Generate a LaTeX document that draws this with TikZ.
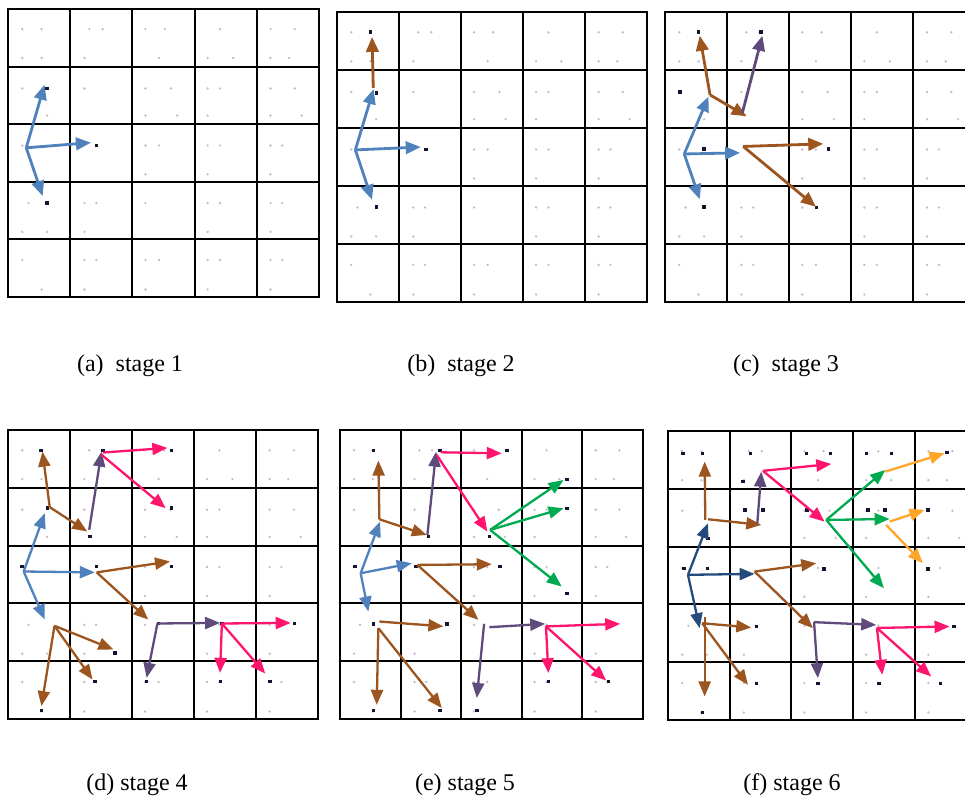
\documentclass[tikz,border=0pt]{standalone}
\usepackage{fontspec}
\setmainfont{Liberation Serif}
\usetikzlibrary{arrows.meta}
\definecolor{cblue}{RGB}{79,129,189}
\definecolor{cdblue}{RGB}{35,75,125}
\definecolor{cbrown}{RGB}{156,85,30}
\definecolor{cpurple}{RGB}{96,74,123}
\definecolor{cpink}{RGB}{255,20,110}
\definecolor{cgreen}{RGB}{0,170,80}
\definecolor{corange}{RGB}{255,165,40}
\definecolor{cfaint}{RGB}{200,185,200}
\definecolor{cdark}{RGB}{20,20,50}
\newcommand\panelgrid{%
  \foreach \x/\y [count=\k] in {0.23/0.35,0.54/0.35,0.23/0.85,0.54/0.85,1.31/0.35,1.52/0.35,1.23/0.85,2.21/0.35,2.52/0.35,2.43/0.85,3.41/0.35,3.21/0.85,3.62/0.85,4.22/0.35,4.61/0.35,4.22/0.85,4.52/0.85,
  0.23/1.38,0.63/1.85,1.23/1.38,2.21/1.38,2.62/1.38,2.21/1.85,2.72/1.85,3.21/1.38,3.41/1.38,3.21/1.85,4.22/1.38,4.61/1.38,4.22/1.85,4.72/1.85,
  0.23/2.37,2.21/2.37,2.43/2.37,2.21/2.87,3.21/2.37,3.41/2.37,3.21/2.87,4.22/2.37,4.41/2.37,4.22/2.87,
  0.33/3.37,0.23/3.87,0.63/3.87,1.23/3.37,1.42/3.37,1.23/3.87,2.21/3.37,3.21/3.37,3.41/3.37,3.21/3.87,4.22/3.37,4.41/3.37,4.22/3.87,
  0.23/4.36,0.54/4.87,1.23/4.36,1.42/4.36,1.23/4.87,2.21/4.36,2.43/4.36,2.21/4.87,3.21/4.36,3.41/4.36,3.21/4.87,4.22/4.36,4.41/4.36,4.22/4.87}
  {\node[faint] (fd\k) at (\x,\y) {};}%
  \foreach \i in {1,...,4}{\draw[gridln] (\i,0) -- (\i,5); \draw[gridln] (0,\i) -- (5,\i);}%
  \draw[gridln] (0,0) rectangle (5,5);%
}
\begin{document}
\begin{tikzpicture}[x=1pt,y=-1pt,
  gridln/.style={line width=1.9pt, black, line cap=rect},
  arr/.style={line width=2.3pt, -{Triangle[length=15pt,width=12pt]}},
  arrb/.style={line width=2.8pt, -{Triangle[length=15pt,width=12.5pt]}},
  faint/.style={circle, inner sep=0pt, minimum size=2.6pt, fill=cfaint},
  dark/.style={rectangle, inner sep=0pt, minimum size=3.6pt, fill=cdark},
  captxt/.style={font=\fontsize{24}{28}\selectfont, inner sep=0pt}]
\useasboundingbox (0,0) rectangle (965,799);
\clip (0,0) rectangle (965,799);
\fill[white] (0,0) rectangle (965,799);

% ---------------- (a) stage 1
\begin{scope}[shift={(8,9)},xscale=62.2,yscale=57.6]
\panelgrid
\foreach \x/\y [count=\k] in {0.63/1.38,1.42/2.37,0.63/3.37}{\node[dark] (ad\k) at (\x,\y) {};}
\coordinate (aR) at (0.295,2.42);
\coordinate (aT1) at (0.59,1.32);
\coordinate (aT2) at (1.34,2.33);
\coordinate (aT3) at (0.56,3.26);
\draw[arrb,cblue] (aR) -- (aT1);
\draw[arrb,cblue] (aR) -- (aT2);
\draw[arrb,cblue] (aR) -- (aT3);
\end{scope}

% ---------------- (b) stage 2
\begin{scope}[shift={(337,12)},xscale=62,yscale=58]
\panelgrid
\foreach \x/\y [count=\k] in {0.634/1.40,1.435/2.37,0.634/3.36,0.538/0.35}{\node[dark] (bd\k) at (\x,\y) {};}
\coordinate (bR) at (0.296,2.38);
\coordinate (bT1) at (0.59,1.33);
\coordinate (bT2) at (1.35,2.33);
\coordinate (bT3) at (0.565,3.24);
\coordinate (bA0) at (0.585,1.31);
\coordinate (bAu) at (0.565,0.43);
\draw[arrb,cblue] (bR) -- (bT1);
\draw[arrb,cblue] (bR) -- (bT2);
\draw[arrb,cblue] (bR) -- (bT3);
\draw[arrb,cbrown] (bA0) -- (bAu);
\end{scope}

% ---------------- (c) stage 3
\begin{scope}[shift={(665,12)},xscale=62.1,yscale=58]
\panelgrid
\foreach \x/\y [count=\k] in {0.537/0.35,1.546/0.35,2.63/2.36,2.44/3.37,0.63/3.36,0.24/1.38,0.63/2.36}{\node[dark] (cd\k) at (\x,\y) {};}
\coordinate (cR) at (0.31,2.45);
\coordinate (cT1) at (0.70,1.46);
\coordinate (cT2) at (1.21,2.43);
\coordinate (cT3) at (0.56,3.23);
\coordinate (cA0) at (0.725,1.43);
\coordinate (cAu) at (0.56,0.41);
\coordinate (cAr) at (1.315,1.80);
\coordinate (cP0) at (1.245,1.745);
\coordinate (cPt) at (1.568,0.41);
\coordinate (cB0) at (1.26,2.32);
\coordinate (cB1) at (2.55,2.275);
\coordinate (cB2) at (2.43,3.36);
\draw[arrb,cblue] (cR) -- (cT1);
\draw[arrb,cblue] (cR) -- (cT2);
\draw[arrb,cblue] (cR) -- (cT3);
\draw[arrb,cbrown] (cA0) -- (cAu);
\draw[arrb,cbrown] (cA0) -- (cAr);
\draw[arrb,cpurple] (cP0) -- (cPt);
\draw[arrb,cbrown] (cB0) -- (cB1);
\draw[arrb,cbrown] (cB0) -- (cB2);
\end{scope}

% ---------------- (d) stage 4
\begin{scope}[shift={(8,430)},xscale=62,yscale=57.8]
\panelgrid
\foreach \x/\y [count=\k] in {0.23/2.36,0.636/1.354,1.43/2.36,0.528/0.357,1.32/1.843,1.535/0.357,2.64/0.357,2.64/1.354,2.64/2.36,2.425/3.35,2.236/4.35,3.45/3.35,4.62/3.35,3.43/4.35,4.23/4.35,0.539/4.85,1.724/3.86,1.40/4.35}{\node[dark] (dd\k) at (\x,\y) {};}
\coordinate (dR) at (0.253,2.45);
\coordinate (dT1) at (0.593,1.44);
\coordinate (dT2) at (1.40,2.465);
\coordinate (dT3) at (0.593,3.28);
\coordinate (dA0) at (0.673,1.336);
\coordinate (dAu) at (0.555,0.374);
\coordinate (dAr) at (1.277,1.757);
\coordinate (dP0) at (1.31,1.728);
\coordinate (dPt) at (1.509,0.374);
\coordinate (dQ1) at (1.535,0.39);
\coordinate (dQ1t) at (2.57,0.31);
\coordinate (dQ2) at (1.51,0.43);
\coordinate (dQ2t) at (2.543,1.354);
\coordinate (dB0) at (1.43,2.465);
\coordinate (dB1) at (2.613,2.275);
\coordinate (dB2) at (2.263,3.283);
\coordinate (dD) at (2.41,3.35);
\coordinate (dD1) at (3.42,3.34);
\coordinate (dD2) at (2.236,4.29);
\coordinate (dE) at (3.45,3.35);
\coordinate (dE1) at (4.56,3.34);
\coordinate (dE2) at (3.42,4.205);
\coordinate (dE3) at (4.15,4.217);
\coordinate (dC0) at (0.75,3.39);
\coordinate (dC1) at (0.539,4.78);
\coordinate (dC2) at (1.70,3.80);
\coordinate (dC3) at (1.363,4.32);
\draw[arr,cblue] (dR) -- (dT1);
\draw[arr,cblue] (dR) -- (dT2);
\draw[arr,cblue] (dR) -- (dT3);
\draw[arr,cbrown] (dA0) -- (dAu);
\draw[arr,cbrown] (dA0) -- (dAr);
\draw[arr,cpurple] (dP0) -- (dPt);
\draw[arr,cpink] (dQ1) -- (dQ1t);
\draw[arr,cpink] (dQ2) -- (dQ2t);
\draw[arr,cbrown] (dB0) -- (dB1);
\draw[arr,cbrown] (dB0) -- (dB2);
\draw[arr,cpurple] (dD) -- (dD1);
\draw[arr,cpurple] (dD) -- (dD2);
\draw[arr,cpink] (dE) -- (dE1);
\draw[arr,cpink] (dE) -- (dE2);
\draw[arr,cpink] (dE) -- (dE3);
\draw[arr,cbrown] (dC0) -- (dC1);
\draw[arr,cbrown] (dC0) -- (dC2);
\draw[arr,cbrown] (dC0) -- (dC3);
\end{scope}

% ---------------- (e) stage 5
\begin{scope}[shift={(340,430)},xscale=60.6,yscale=57.8]
\panelgrid
\foreach \x/\y [count=\k] in {0.551/0.358,1.65/0.358,2.753/0.358,3.745/0.853,3.745/1.355,2.467/1.845,1.46/1.845,0.248/2.364,1.256/2.364,2.643/2.364,3.745/2.826,0.551/3.356,1.762/3.356,3.44/4.354,4.43/4.354,0.551/4.856,1.652/4.856,2.258/4.856}{\node[dark] (ed\k) at (\x,\y) {};}
\coordinate (eR) at (0.341,2.48);
\coordinate (eT1) at (0.661,1.586);
\coordinate (eT2) at (1.184,2.307);
\coordinate (eT3) at (0.468,3.143);
\coordinate (eA0) at (0.65,1.546);
\coordinate (eAu) at (0.633,0.53);
\coordinate (eAr) at (1.432,1.817);
\coordinate (eP0) at (1.443,1.817);
\coordinate (ePt) at (1.586,0.375);
\coordinate (eQ1) at (1.663,0.386);
\coordinate (eQ1t) at (2.67,0.404);
\coordinate (eQ2) at (1.597,0.433);
\coordinate (eQ2t) at (2.434,1.759);
\coordinate (eF) at (2.478,1.73);
\coordinate (eF1) at (3.69,0.865);
\coordinate (eF2) at (3.69,1.355);
\coordinate (eF3) at (3.66,2.71);
\coordinate (eB0) at (1.278,2.336);
\coordinate (eB1) at (2.505,2.324);
\coordinate (eB2) at (2.285,3.287);
\coordinate (eD0) at (2.379,3.356);
\coordinate (eD0t) at (2.258,4.64);
\coordinate (eD1) at (2.467,3.414);
\coordinate (eD1t) at (3.387,3.356);
\coordinate (eG) at (3.40,3.40);
\coordinate (eG1) at (4.626,3.356);
\coordinate (eG2) at (3.44,4.21);
\coordinate (eG3) at (4.394,4.337);
\coordinate (eC0) at (0.65,3.316);
\coordinate (eC0t) at (1.707,3.40);
\coordinate (eC1) at (0.633,3.43);
\coordinate (eC1t) at (0.606,4.758);
\coordinate (eC2t) at (1.68,4.815);
\draw[arr,cblue] (eR) -- (eT1);
\draw[arr,cblue] (eR) -- (eT2);
\draw[arr,cblue] (eR) -- (eT3);
\draw[arr,cbrown] (eA0) -- (eAu);
\draw[arr,cbrown] (eA0) -- (eAr);
\draw[arr,cpurple] (eP0) -- (ePt);
\draw[arr,cpink] (eQ1) -- (eQ1t);
\draw[arr,cpink] (eQ2) -- (eQ2t);
\draw[arr,cgreen] (eF) -- (eF1);
\draw[arr,cgreen] (eF) -- (eF2);
\draw[arr,cgreen] (eF) -- (eF3);
\draw[arr,cbrown] (eB0) -- (eB1);
\draw[arr,cbrown] (eB0) -- (eB2);
\draw[arr,cpurple] (eD0) -- (eD0t);
\draw[arr,cpurple] (eD1) -- (eD1t);
\draw[arr,cpink] (eG) -- (eG1);
\draw[arr,cpink] (eG) -- (eG2);
\draw[arr,cpink] (eG) -- (eG3);
\draw[arr,cbrown] (eC0) -- (eC0t);
\draw[arr,cbrown] (eC1) -- (eC1t);
\draw[arr,cbrown] (eC1) -- (eC2t);
\end{scope}

% ---------------- (f) stage 6
\begin{scope}[shift={(668,431)},xscale=61.7,yscale=57.8]
\panelgrid
\foreach \x/\y [count=\k] in {0.243/0.386,0.557/0.386,1.34/0.386,2.243/0.386,2.632/0.386,3.216/0.386,3.62/0.386,4.524/0.369,1.216/0.877,1.243/1.367,1.54/1.367,2.254/1.367,3.243/1.367,3.514/1.367,4.216/1.367,0.649/1.857,0.259/2.376,0.638/2.376,2.53/2.388,4.216/2.388,1.432/3.385,4.632/3.385,2.432/4.366,3.416/4.366,4.416/4.366,1.432/4.366,0.557/4.873}{\node[dark] (fdk\k) at (\x,\y) {};}
\coordinate (fR) at (0.324,2.49);
\coordinate (fT1) at (0.649,1.597);
\coordinate (fT2) at (1.405,2.474);
\coordinate (fT3) at (0.514,3.414);
\coordinate (fA0) at (0.605,1.54);
\coordinate (fAu) at (0.595,0.53);
\coordinate (fA1) at (0.649,1.528);
\coordinate (fAr) at (1.514,1.626);
\coordinate (fP0) at (1.449,1.597);
\coordinate (fPt) at (1.514,0.704);
\coordinate (fQ) at (1.54,0.69);
\coordinate (fQ1t) at (2.65,0.571);
\coordinate (fQ2t) at (2.54,1.569);
\coordinate (fF) at (2.568,1.54);
\coordinate (fF1) at (3.524,0.675);
\coordinate (fF2) at (3.595,1.523);
\coordinate (fF3) at (3.503,2.722);
\coordinate (fO1) at (3.524,0.704);
\coordinate (fO1t) at (4.486,0.386);
\coordinate (fO2) at (3.595,1.569);
\coordinate (fO2t) at (4.162,1.367);
\coordinate (fO3) at (3.54,1.626);
\coordinate (fO3t) at (4.135,2.29);
\coordinate (fB0) at (1.405,2.434);
\coordinate (fB1) at (2.405,2.29);
\coordinate (fB2) at (2.351,3.414);
\coordinate (fD) at (2.37,3.31);
\coordinate (fD1) at (3.378,3.357);
\coordinate (fD2) at (2.432,4.279);
\coordinate (fE) at (3.39,3.41);
\coordinate (fE1) at (4.568,3.385);
\coordinate (fE2) at (3.476,4.221);
\coordinate (fE3) at (4.27,4.25);
\coordinate (fC0) at (0.555,3.328);
\coordinate (fC1) at (1.351,3.403);
\coordinate (fC2) at (1.297,4.394);
\coordinate (fC3s) at (0.595,3.212);
\coordinate (fC3) at (0.595,4.596);
\draw[arr,cdblue] (fR) -- (fT1);
\draw[arr,cdblue] (fR) -- (fT2);
\draw[arr,cdblue] (fR) -- (fT3);
\draw[arr,cbrown] (fA0) -- (fAu);
\draw[arr,cbrown] (fA1) -- (fAr);
\draw[arr,cpurple] (fP0) -- (fPt);
\draw[arr,cpink] (fQ) -- (fQ1t);
\draw[arr,cpink] (fQ) -- (fQ2t);
\draw[arr,cgreen] (fF) -- (fF1);
\draw[arr,cgreen] (fF) -- (fF2);
\draw[arr,cgreen] (fF) -- (fF3);
\draw[arr,corange] (fO1) -- (fO1t);
\draw[arr,corange] (fO2) -- (fO2t);
\draw[arr,corange] (fO3) -- (fO3t);
\draw[arr,cbrown] (fB0) -- (fB1);
\draw[arr,cbrown] (fB0) -- (fB2);
\draw[arr,cpurple] (fD) -- (fD1);
\draw[arr,cpurple] (fD) -- (fD2);
\draw[arr,cpink] (fE) -- (fE1);
\draw[arr,cpink] (fE) -- (fE2);
\draw[arr,cpink] (fE) -- (fE3);
\draw[arr,cbrown] (fC0) -- (fC1);
\draw[arr,cbrown] (fC0) -- (fC2);
\draw[arr,cbrown] (fC3s) -- (fC3);
\end{scope}

% ---------------- captions
\node[captxt] (la) at (130,366) {(a)~ stage 1};
\node[captxt] (lb) at (461,366) {(b)~ stage 2};
\node[captxt] (lc) at (786,366) {(c)~ stage 3};
\node[captxt] (ld) at (137,785) {(d) stage 4};
\node[captxt] (le) at (465,785) {(e) stage 5};
\node[captxt] (lf) at (792,785) {(f) stage 6};
\end{tikzpicture}
\end{document}
